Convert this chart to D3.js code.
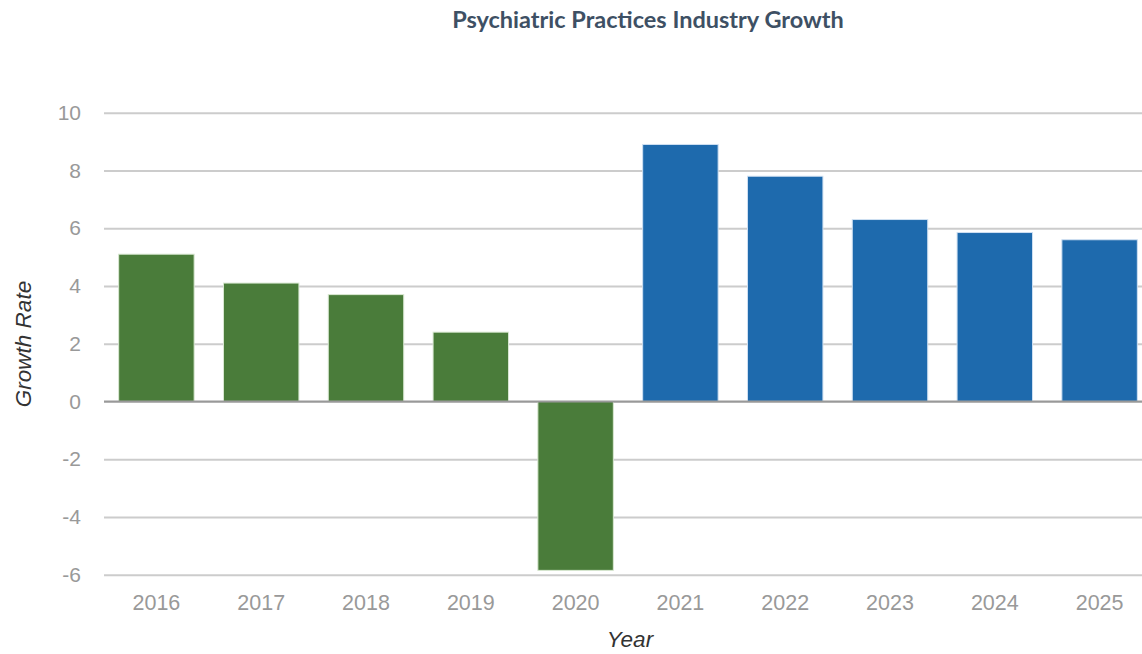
<!DOCTYPE html>
<html>
<head>
<meta charset="utf-8">
<script src="https://cdn.jsdelivr.net/npm/d3@7"></script>
<style>
  html, body { margin: 0; padding: 0; background: #fff; }
  svg { display: block; }
</style>
</head>
<body>
<svg id="chart" width="1142" height="654"></svg>
<script>
// Annual growth rate, actual (green) and projected (blue)
const years = ["2016", "2017", "2018", "2019", "2020", "2021", "2022", "2023", "2024", "2025"];
const growth = [5.1, 4.1, 3.7, 2.4, -5.85, 8.9, 7.8, 6.3, 5.85, 5.6];
const projected = [false, false, false, false, false, true, true, true, true, true];
const yTicks = [-6, -4, -2, 0, 2, 4, 6, 8, 10];

const svg = d3.select("#chart");
const W = 1142, H = 654;
const plotLeft = 104, plotRight = 1152;
const plotTop = 112.7, plotBottom = 574.7;
const tickFont = "'Liberation Sans', Arial, sans-serif";

const x = d3.scaleBand().domain(years).range([plotLeft, plotRight]).paddingInner(0.28).paddingOuter(0.14);
const y = d3.scaleLinear().domain([-6, 10]).range([plotBottom, plotTop]);

// title
svg.append("text")
  .attr("x", 648).attr("y", 28)
  .attr("text-anchor", "middle")
  .attr("font-family", "Lato, 'Open Sans', sans-serif")
  .attr("font-weight", "bold")
  .attr("font-size", 23.5)
  .attr("fill", "#3e5064")
  .text("Psychiatric Practices Industry Growth");

// horizontal grid with value labels (plain hyphen for negatives)
const yAxis = d3.axisLeft(y).tickValues(yTicks).tickSize(-(W - plotLeft))
  .tickFormat(d => String(d)).tickPadding(23);
const gy = svg.append("g").attr("transform", `translate(${plotLeft},0)`).call(yAxis);
gy.select(".domain").remove();
gy.selectAll(".tick line").attr("stroke", "#cccccc").attr("stroke-width", 2);
gy.selectAll(".tick text")
  .attr("font-family", tickFont)
  .attr("font-size", 21).attr("fill", "#999999");

// bars
svg.append("g").selectAll("rect")
  .data(years)
  .join("rect")
  .attr("x", d => x(d))
  .attr("width", x.bandwidth())
  .attr("y", (d, i) => y(Math.max(0, growth[i])))
  .attr("height", (d, i) => Math.abs(y(growth[i]) - y(0)))
  .attr("fill", (d, i) => projected[i] ? "#1e6aad" : "#4a7c3a")
  .attr("stroke", (d, i) => projected[i] ? "#cfe0f2" : "#d9e8d2")
  .attr("stroke-width", 1);

// zero baseline
svg.append("line")
  .attr("x1", plotLeft).attr("x2", W)
  .attr("y1", y(0)).attr("y2", y(0))
  .attr("stroke", "#999999").attr("stroke-width", 2);

// year labels
const xAxis = d3.axisBottom(x).tickSize(0).tickPadding(0);
const gx = svg.append("g").attr("transform", "translate(0,609.5)").call(xAxis);
gx.select(".domain").remove();
gx.selectAll(".tick text")
  .attr("y", 0).attr("dy", "0")
  .attr("font-family", tickFont)
  .attr("font-size", 21.5).attr("fill", "#999999");

// axis titles
svg.append("text")
  .attr("transform", "translate(31,344) rotate(-90)")
  .attr("text-anchor", "middle")
  .attr("font-family", tickFont)
  .attr("font-style", "italic")
  .attr("font-size", 22.5)
  .attr("fill", "#333333")
  .text("Growth Rate");

svg.append("text")
  .attr("x", 630).attr("y", 647)
  .attr("text-anchor", "middle")
  .attr("font-family", tickFont)
  .attr("font-style", "italic")
  .attr("font-size", 22.5)
  .attr("fill", "#333333")
  .text("Year");
</script>
</body>
</html>
